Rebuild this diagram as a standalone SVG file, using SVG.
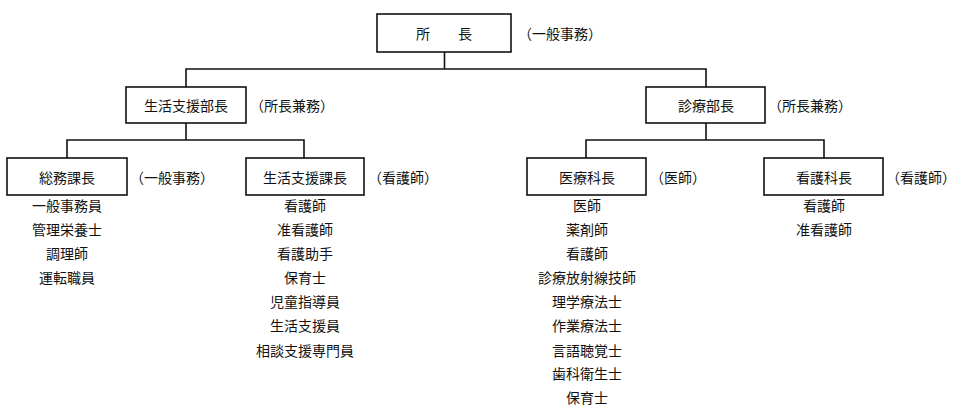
<svg xmlns="http://www.w3.org/2000/svg" width="960" height="413" viewBox="0 0 960 413">
<style>
text{font-family:"Noto Sans CJK JP","Noto Sans CJK SC",sans-serif;font-size:14px;fill:#111;dominant-baseline:central}
.c{text-anchor:middle}
.box{fill:#fff;stroke:#111;stroke-width:1.6}
.ln{fill:none;stroke:#111;stroke-width:1.6}
</style>
<rect width="960" height="413" fill="#fff"/>
<g id="connectors">
<path class="ln" d="M444.5,52V69" stroke="#555"/>
<path class="ln" d="M186,87V69H706V87"/>
<path class="ln" d="M186,123V140M67,158V140H304V158"/>
<path class="ln" d="M706,123V140M586,158V140H824V158"/>
</g>
<g id="director">
<rect class="box" x="377" y="14" width="134" height="38"/>
<text class="c" x="444" y="33">所　　長</text>
<text x="518" y="33">（一般事務）</text>
</g>
<g id="life-support-dept">
<rect class="box" x="126" y="87" width="120" height="36"/>
<text class="c" x="186" y="105">生活支援部長</text>
<text x="250" y="105">（所長兼務）</text>
</g>
<g id="medical-dept">
<rect class="box" x="646" y="87" width="119" height="36"/>
<text class="c" x="706" y="105">診療部長</text>
<text x="768" y="105">（所長兼務）</text>
</g>
<g id="general-affairs">
<rect class="box" x="7" y="158" width="120" height="37"/>
<text class="c" x="67" y="177">総務課長</text>
<text x="130" y="177">（一般事務）</text>
<text class="c" x="67" y="205">一般事務員</text>
<text class="c" x="67" y="229">管理栄養士</text>
<text class="c" x="67" y="253">調理師</text>
<text class="c" x="67" y="277">運転職員</text>
</g>
<g id="life-support-section">
<rect class="box" x="246" y="158" width="118" height="37"/>
<text class="c" x="305" y="177">生活支援課長</text>
<text x="368" y="177">（看護師）</text>
<text class="c" x="305" y="205">看護師</text>
<text class="c" x="305" y="229">准看護師</text>
<text class="c" x="305" y="253">看護助手</text>
<text class="c" x="305" y="277">保育士</text>
<text class="c" x="305" y="301">児童指導員</text>
<text class="c" x="305" y="325">生活支援員</text>
<text class="c" x="305" y="350">相談支援専門員</text>
</g>
<g id="medical-section">
<rect class="box" x="527" y="158" width="119" height="37"/>
<text class="c" x="587" y="177">医療科長</text>
<text x="650" y="177">（医師）</text>
<text class="c" x="587" y="205">医師</text>
<text class="c" x="587" y="229">薬剤師</text>
<text class="c" x="587" y="253">看護師</text>
<text class="c" x="587" y="277">診療放射線技師</text>
<text class="c" x="587" y="301">理学療法士</text>
<text class="c" x="587" y="325">作業療法士</text>
<text class="c" x="587" y="350">言語聴覚士</text>
<text class="c" x="587" y="373">歯科衛生士</text>
<text class="c" x="587" y="397">保育士</text>
</g>
<g id="nursing-section">
<rect class="box" x="764" y="158" width="119" height="37"/>
<text class="c" x="824" y="177">看護科長</text>
<text x="886" y="177">（看護師）</text>
<text class="c" x="824" y="205">看護師</text>
<text class="c" x="824" y="229">准看護師</text>
</g>
</svg>
